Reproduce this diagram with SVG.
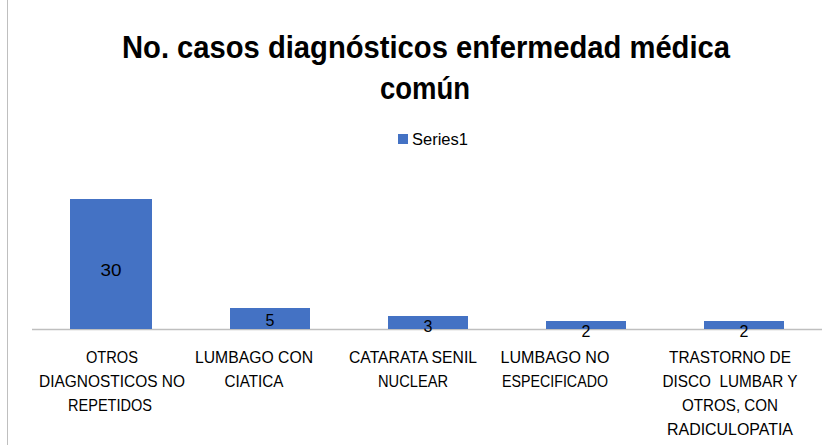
<svg xmlns="http://www.w3.org/2000/svg" width="832" height="445" viewBox="0 0 832 445">
<style>
text{font-family:"Liberation Sans",Arial,sans-serif;fill:#000}
.t{font-size:32px;font-weight:bold;text-anchor:middle}
.c{font-size:17px;text-anchor:middle}
.v{font-size:16px;text-anchor:middle}
.bar{fill:#4472c4}
</style>
<rect width="832" height="445" fill="#fff"/>
<line x1="7.5" y1="0" x2="7.5" y2="445" stroke="#bfbfbf" stroke-width="1"/>
<g id="title">
<text class="t" x="426" y="58" textLength="608" lengthAdjust="spacingAndGlyphs">No. casos diagnósticos enfermedad médica</text>
<text class="t" x="425" y="99" textLength="90" lengthAdjust="spacingAndGlyphs">común</text>
</g>
<g id="legend">
<rect x="398" y="134" width="10" height="10" class="bar"/>
<text x="412" y="145" style="font-size:16px" textLength="56" lengthAdjust="spacingAndGlyphs">Series1</text>
</g>
<g id="connectors">
<line x1="32" y1="329.5" x2="822" y2="329.5" stroke="#bfbfbf" stroke-width="1.5"/>
</g>
<g id="bar1"><rect class="bar" x="70" y="199" width="82" height="130"/><text class="v" x="111" y="276" textLength="21" lengthAdjust="spacingAndGlyphs">30</text></g>
<g id="bar2"><rect class="bar" x="230" y="308" width="80" height="21"/><text class="v" x="270" y="326">5</text></g>
<g id="bar3"><rect class="bar" x="388" y="316" width="80" height="13"/><text class="v" x="428" y="332">3</text></g>
<g id="bar4"><rect class="bar" x="546" y="321" width="80" height="8"/><text class="v" x="586" y="337">2</text></g>
<g id="bar5"><rect class="bar" x="704" y="321" width="80" height="8"/><text class="v" x="744" y="337">2</text></g>
<g id="cat1">
<text class="c" x="112" y="363" textLength="52" lengthAdjust="spacingAndGlyphs">OTROS</text>
<text class="c" x="112" y="387" textLength="146" lengthAdjust="spacingAndGlyphs">DIAGNOSTICOS NO</text>
<text class="c" x="110" y="411" textLength="84" lengthAdjust="spacingAndGlyphs">REPETIDOS</text>
</g>
<g id="cat2">
<text class="c" x="254" y="363" textLength="118" lengthAdjust="spacingAndGlyphs">LUMBAGO CON</text>
<text class="c" x="254" y="387" textLength="59" lengthAdjust="spacingAndGlyphs">CIATICA</text>
</g>
<g id="cat3">
<text class="c" x="413" y="363" textLength="128" lengthAdjust="spacingAndGlyphs">CATARATA SENIL</text>
<text class="c" x="413" y="387" textLength="70" lengthAdjust="spacingAndGlyphs">NUCLEAR</text>
</g>
<g id="cat4">
<text class="c" x="555" y="363" textLength="109" lengthAdjust="spacingAndGlyphs">LUMBAGO NO</text>
<text class="c" x="555" y="387" textLength="106" lengthAdjust="spacingAndGlyphs">ESPECIFICADO</text>
</g>
<g id="cat5">
<text class="c" x="730" y="363" textLength="122" lengthAdjust="spacingAndGlyphs">TRASTORNO DE</text>
<text class="c" x="730" y="387" textLength="135" lengthAdjust="spacingAndGlyphs" xml:space="preserve">DISCO  LUMBAR Y</text>
<text class="c" x="730" y="411" textLength="96" lengthAdjust="spacingAndGlyphs">OTROS, CON</text>
<text class="c" x="730" y="435" textLength="126" lengthAdjust="spacingAndGlyphs">RADICULOPATIA</text>
</g>
</svg>
